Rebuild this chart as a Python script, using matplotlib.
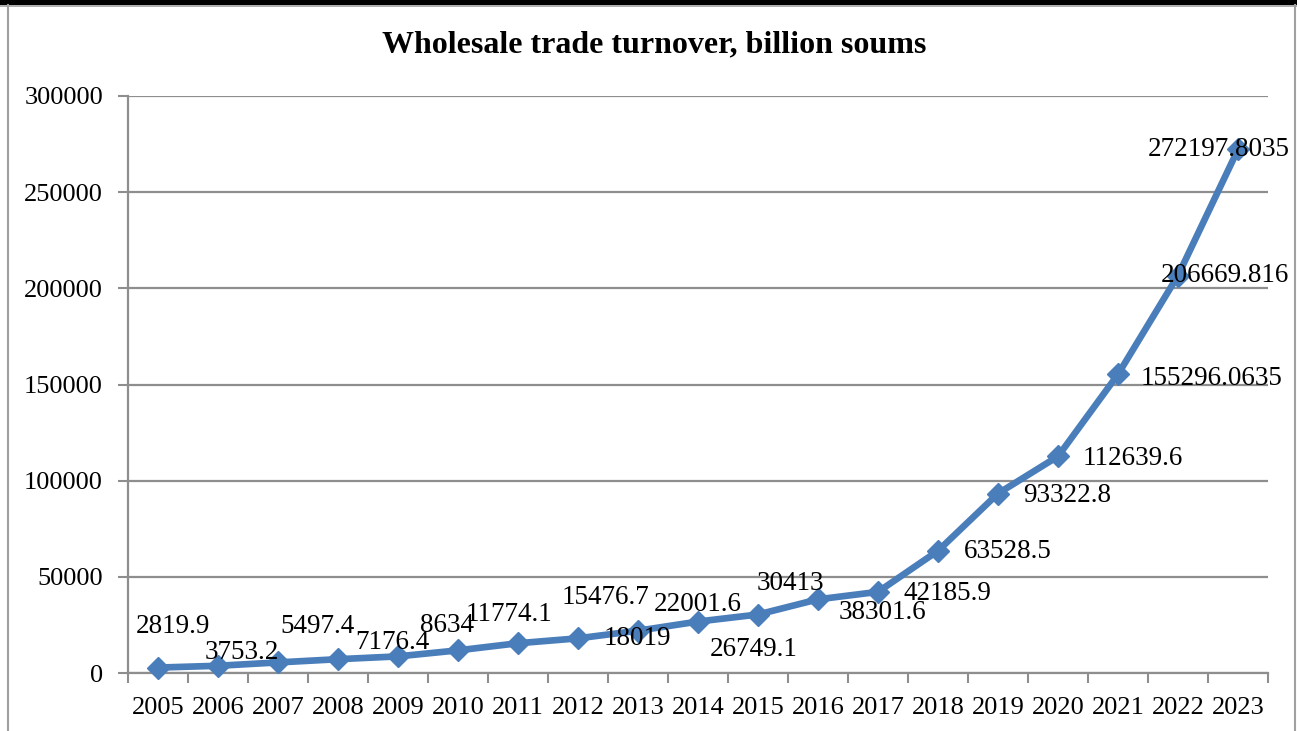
import numpy as np
import matplotlib
matplotlib.use("Agg")
import matplotlib.pyplot as plt
from matplotlib.lines import Line2D

# data
years = ["2005", "2006", "2007", "2008", "2009", "2010", "2011", "2012", "2013",
         "2014", "2015", "2016", "2017", "2018", "2019", "2020", "2021", "2022", "2023"]
turnover = [2819.9, 3753.2, 5497.4, 7176.4, 8634, 11774.1, 15476.7, 18019, 22001.6,
            26749.1, 30413, 38301.6, 42185.9, 63528.5, 93322.8, 112639.6,
            155296.0635, 206669.816, 272197.8035]
labels = ["2819.9", "3753.2", "5497.4", "7176.4", "8634", "11774.1", "15476.7", "18019",
          "22001.6", "26749.1", "30413", "38301.6", "42185.9", "63528.5", "93322.8",
          "112639.6", "155296.0635", "206669.816", "272197.8035"]
# label offsets in pixels (dx, dy up)
label_off = [(15, 41), (24, 13), (39, 36), (54, 17), (49, 31), (51, 36), (87, 46),
             (59, 0), (60, 26), (56, -28), (32, 31), (65, -13), (69, -2), (70, -1),
             (69, -2), (75, -2), (94, -4), (47, 0), (-19, 0)]

plt.rcParams['font.family'] = ['Liberation Serif', 'DejaVu Serif']

fig = plt.figure(figsize=(12.97, 7.31), dpi=100)
ax = fig.add_axes([128 / 1297, 1 - 673 / 731, (1268 - 128) / 1297, (673 - 96) / 731])

blue = "#4A7EBB"
grid_c = "#8E8E8E"
x = np.arange(len(years))

ax.plot(x, turnover, color=blue, lw=4.8, marker="D", markersize=11,
        markerfacecolor=blue, markeredgecolor=blue, zorder=3, clip_on=False)

for xi, yi, lab, (dx, dy) in zip(x, turnover, labels, label_off):
    ax.annotate(lab, (xi, yi), xytext=(dx, dy), textcoords="offset pixels",
                ha="center", va="center", fontsize=19.5, color="black", zorder=4)

ax.set_xlim(-0.5, len(years) - 0.5)
ax.set_ylim(0, 300000)
ax.set_yticks(np.arange(0, 300001, 50000))
ax.set_yticklabels([str(v) for v in range(0, 300001, 50000)])
ax.set_xticks(x)
ax.set_xticklabels(years)
ax.set_xticks(np.arange(-0.5, len(years)), minor=True)

ax.tick_params(axis="x", which="major", length=0, pad=17, labelsize=19)
ax.tick_params(axis="x", which="minor", length=7, width=1.5, color=grid_c)
ax.tick_params(axis="y", which="major", length=7, width=1.5, color=grid_c, pad=11, labelsize=19)

ax.yaxis.grid(True, color=grid_c, lw=1.6)
ax.set_axisbelow(True)
for s in ["top", "right"]:
    ax.spines[s].set_visible(False)
for s in ["left", "bottom"]:
    ax.spines[s].set_color(grid_c)
    ax.spines[s].set_linewidth(1.6)

fig.text(654 / 1297, 1 - 45 / 731, "Wholesale trade turnover, billion soums",
         ha="center", va="center", fontsize=23, fontweight="bold")

# chart frame
fig.add_artist(plt.Rectangle((0, 1 - 5 / 731), 1, 5 / 731, transform=fig.transFigure,
                             color="black", lw=0))
fig.add_artist(Line2D([0, 1], [1 - 6 / 731] * 2, transform=fig.transFigure, color="#A0A0A0", lw=1.2))
fig.add_artist(Line2D([8 / 1297] * 2, [0, 1 - 5 / 731], transform=fig.transFigure, color="#A0A0A0", lw=1.5))
fig.add_artist(Line2D([1295 / 1297] * 2, [0, 1 - 5 / 731], transform=fig.transFigure, color="#A0A0A0", lw=1.5))

fig.savefig("out.png", dpi=100)
